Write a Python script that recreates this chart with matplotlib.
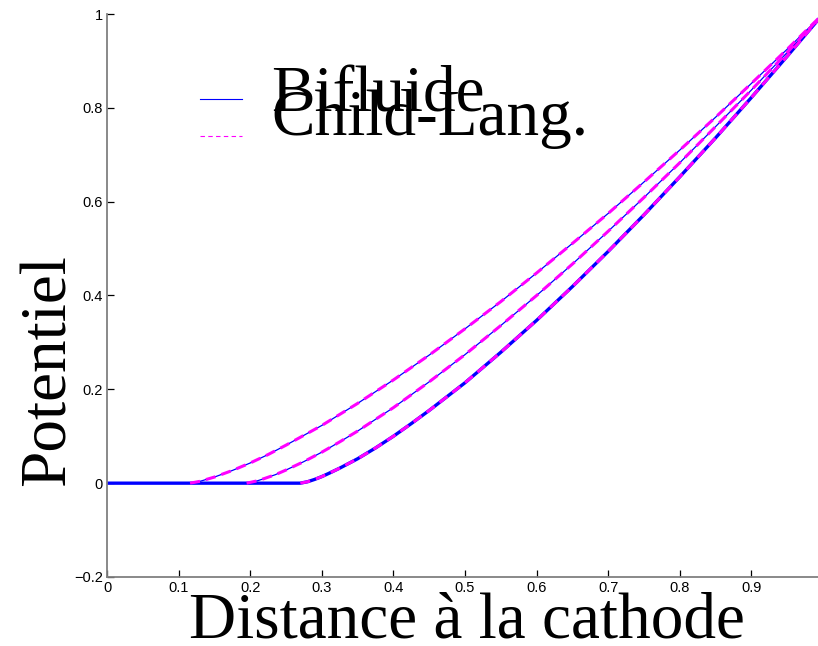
import matplotlib
matplotlib.use("Agg")
import numpy as np
import matplotlib.pyplot as plt
from matplotlib.lines import Line2D
from matplotlib.legend_handler import HandlerLine2D

# ---- data ----
x_top = [0.0, 0.116, 0.13, 0.15, 0.175, 0.2, 0.225, 0.25, 0.275, 0.3, 0.35, 0.4, 0.45,
         0.5, 0.55, 0.6, 0.65, 0.7, 0.75, 0.8, 0.85, 0.9, 0.95, 1.0]
v_top = [0.0, 0.0, 0.004, 0.013, 0.027, 0.043, 0.061, 0.081, 0.102, 0.123, 0.170,
         0.220, 0.273, 0.329, 0.387, 0.448, 0.511, 0.575, 0.642, 0.710, 0.780, 0.852,
         0.925, 1.0]

x_mid = [0.0, 0.195, 0.21, 0.22, 0.235, 0.25, 0.275, 0.3, 0.325, 0.35, 0.4, 0.45, 0.5,
         0.55, 0.6, 0.65, 0.7, 0.75, 0.8, 0.85, 0.9, 0.95, 1.0]
v_mid = [0.0, 0.0, 0.005, 0.010, 0.018, 0.028, 0.046, 0.066, 0.088, 0.111, 0.161,
         0.216, 0.274, 0.336, 0.400, 0.467, 0.537, 0.609, 0.683, 0.760, 0.838, 0.918, 1.0]

x_low = [0.0, 0.27, 0.28, 0.29, 0.3, 0.31, 0.325, 0.35, 0.375, 0.4, 0.425, 0.45, 0.5,
         0.55, 0.6, 0.65, 0.7, 0.75, 0.8, 0.85, 0.9, 0.95, 1.0]
v_low = [0.0, 0.0, 0.003, 0.008, 0.014, 0.021, 0.032, 0.052, 0.075, 0.100, 0.127,
         0.155, 0.214, 0.279, 0.347, 0.419, 0.494, 0.572, 0.653, 0.736, 0.822, 0.910, 1.0]

x_ticks = [0, 0.1, 0.2, 0.3, 0.4, 0.5, 0.6, 0.7, 0.8, 0.9, 1.0]
x_ticklabels = ["0", "0.1", "0.2", "0.3", "0.4", "0.5", "0.6", "0.7", "0.8", "0.9", ""]
y_ticks = [-0.2, 0, 0.2, 0.4, 0.6, 0.8, 1.0]
y_ticklabels = ["\u22120.2", "0", "0.2", "0.4", "0.6", "0.8", "1"]

labels = ["Bifluide", "Child-Lang."]

BLUE = "#0000ff"
MAGENTA = "#ff00ff"
SERIF = "Liberation Serif"
SANS = "Liberation Sans"


class ShiftedLine(HandlerLine2D):
    def __init__(self, dy, **kw):
        super().__init__(**kw)
        self.dy = dy

    def create_artists(self, legend, orig_handle, xdescent, ydescent, width, height,
                       fontsize, trans):
        arts = super().create_artists(legend, orig_handle, xdescent, ydescent, width,
                                      height, fontsize, trans)
        for a in arts:
            a.set_ydata(np.asarray(a.get_ydata()) - self.dy * fontsize)
        return arts


fig = plt.figure(figsize=(8.18, 6.46), dpi=100)
ax = fig.add_axes([107 / 818, 69 / 646, 716 / 818, 563 / 646])

# Bifluide (solid blue)
ax.plot(x_top, v_top, color=BLUE, lw=0.9, zorder=2)
ax.plot(x_mid, v_mid, color=BLUE, lw=0.9, zorder=2)
ax.plot(x_low, v_low, color=BLUE, lw=2.4, zorder=2)

# Child-Langmuir (dashed magenta), only the rising part
for xs, vs, x0 in ((x_top, v_top, 0.116), (x_mid, v_mid, 0.195), (x_low, v_low, 0.27)):
    xx = [a for a in xs if a >= x0]
    vv = [b for a, b in zip(xs, vs) if a >= x0]
    ax.plot(xx, vv, color=MAGENTA, lw=2.2, dashes=(3.3, 2.0), zorder=3)

ax.set_xlim(0, 1)
ax.set_ylim(-0.2, 1)
ax.set_xticks(x_ticks)
ax.set_xticklabels(x_ticklabels, fontfamily=SANS, fontsize=10.5)
ax.set_yticks(y_ticks)
ax.set_yticklabels(y_ticklabels, fontfamily=SANS, fontsize=10.5)
ax.tick_params(direction="in", length=5, width=0.9, color="black", pad=3)

for s in ("top", "right"):
    ax.spines[s].set_visible(False)
for s in ("left", "bottom"):
    ax.spines[s].set_color("#808080")
    ax.spines[s].set_linewidth(1.3)

ax.set_xlabel("Distance à la cathode", fontfamily=SERIF, fontsize=47)
ax.xaxis.set_label_coords(0.503, -0.107)
ax.xaxis.label.set_va("baseline")
ax.set_ylabel("Potentiel", fontfamily=SERIF, fontsize=47)
ax.yaxis.set_label_coords(-0.0587, 0.368)
ax.yaxis.label.set_va("baseline")

h_bif = Line2D([], [], color=BLUE, lw=0.8)
h_cl = Line2D([], [], color=MAGENTA, lw=0.8, dashes=(4, 3))
leg = ax.legend([h_bif, h_cl], labels, loc="upper left",
                bbox_to_anchor=(200 / 818, 1 - 66 / 646), bbox_transform=fig.transFigure,
                frameon=False, prop={"family": SERIF, "size": 47},
                handlelength=0.65, handletextpad=0.44, labelspacing=-0.558,
                borderpad=0, borderaxespad=0,
                handler_map={h_bif: ShiftedLine(0.15), h_cl: ShiftedLine(0.365)})

fig.savefig("out.png", dpi=100)
